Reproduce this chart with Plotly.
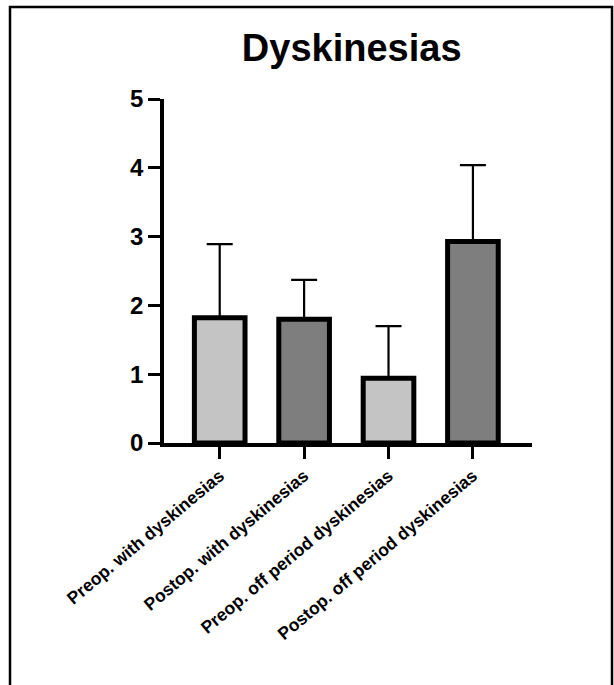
import plotly.graph_objects as go

categories = ["Preop. with dyskinesias", "Postop. with dyskinesias",
              "Preop. off period dyskinesias", "Postop. off period dyskinesias"]
means = [1.82, 1.80, 0.94, 2.93]
sd_upper = [1.07, 0.57, 0.76, 1.11]
bar_colors = ["#c4c4c4", "#7e7e7e", "#c4c4c4", "#7e7e7e"]
y_ticks = [0, 1, 2, 3, 4, 5]

W, H = 614, 685
L, R, T, B = 164, 82, 99, 242

fig = go.Figure()
fig.add_trace(go.Bar(
    x=categories, y=means, width=0.60,
    marker=dict(color=bar_colors, line=dict(color="black", width=5)),
    error_y=dict(type="data", symmetric=False, array=sd_upper,
                 arrayminus=[0] * len(means), color="black",
                 thickness=2.2, width=13),
))

pw, ph = W - L - R, H - T - B
def px2paper_x(px):
    return (px - L) / pw
def px2paper_y(py):
    return (H - B - py) / ph

fig.add_shape(type="rect", xref="paper", yref="paper",
              x0=px2paper_x(10), x1=px2paper_x(612),
              y0=px2paper_y(700), y1=px2paper_y(7),
              line=dict(color="black", width=2.5), fillcolor="rgba(0,0,0,0)")

fig.update_layout(
    width=W, height=H,
    margin=dict(l=L, r=R, t=T, b=B),
    paper_bgcolor="white", plot_bgcolor="white",
    showlegend=False,
    title=dict(text="<b>Dyskinesias</b>", x=0.51, xref="paper",
               y=1 - 48 / H, yref="container", yanchor="middle", xanchor="center",
               font=dict(family="Liberation Sans, Arial", size=38, color="black")),
    font=dict(family="Liberation Sans, Arial", color="black"),
)
fig.update_xaxes(
    range=[-0.66, 3.70], showgrid=False, zeroline=False,
    showline=True, linecolor="black", linewidth=3.5,
    ticks="outside", ticklen=12, tickwidth=3, tickcolor="black",
    tickangle=-40, tickfont=dict(size=17.5, family="Liberation Sans, Arial", weight="bold"),
)
fig.update_yaxes(
    range=[0, 5], tickvals=y_ticks, showgrid=False, zeroline=False,
    showline=True, linecolor="black", linewidth=3.5,
    ticks="outside", ticklen=12, tickwidth=3, tickcolor="black",
    tickfont=dict(size=24, family="Liberation Sans, Arial", weight="bold"),
)

fig.write_html("out.html", config={"displayModeBar": False},
               post_script="document.body.style.margin='0px';")
